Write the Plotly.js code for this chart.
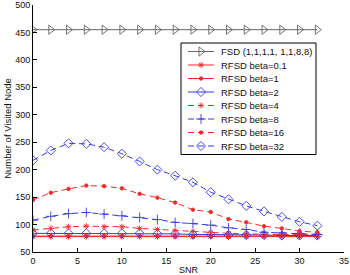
<!DOCTYPE html>
<html>
<head>
<meta charset="utf-8">
<script src="https://cdn.plot.ly/plotly-3.0.1.min.js"></script>
<style>
html,body{margin:0;padding:0;background:#fff;}
#chart{width:350px;height:275px;}
</style>
</head>
<body>
<div id="chart"></div>
<script>
// ---- data ----
var snr = [0,2,4,6,8,10,12,14,16,18,20,22,24,26,28,30,32];
var fsd   = [455,455,455,455,455,455,455,455,455,455,455,455,455,455,455,455,455];
var b0_1  = [78,78,78,78,78,78,78,78,78,78,78,78,78,78,78,78,78];
var b1    = [79,79,79,79,79,79,79,79,79,79,79,79,79,79,79,79,79];
var b2    = [84,84,84,84,84,84,84,83,83,82,82,81,81,81,80,80,80];
var b4    = [90,93,96,97,96,96,93,91,89,87,85,84,83,82,82,82,81];
var b8    = [108,115,120,122,119,116,113,109,104,102,99,94,91,86,85,84,82];
var b16   = [145,158,165,171,170,166,156,149,140,127,123,110,104,97,93,88,86];
var b32   = [217,235,248,247,241,229,215,200,189,177,159,146,134,124,114,105,98];
var seriesNames = ['FSD (1,1,1,1, 1,1,8,8)','RFSD beta=0.1','RFSD beta=1','RFSD beta=2',
                   'RFSD beta=4','RFSD beta=8','RFSD beta=16','RFSD beta=32'];
var seriesValues = [fsd,b0_1,b1,b2,b4,b8,b16,b32];
var xTicks = [0,5,10,15,20,25,30,35];
var yTicks = [50,100,150,200,250,300,350,400,450,500];

// ---- styles ----
var RED = '#f22a2a', BLUE = '#3a3ae0', GRAY = '#666666';
var DASH = '6px,4px';
var styles = [
  {color:GRAY, dash:'solid', symbol:'triangle-right-open', size:8},
  {color:RED,  dash:'solid', symbol:'asterisk-open', size:5},
  {color:RED,  dash:'solid', symbol:'circle', size:3.5},
  {color:BLUE, dash:'solid', symbol:'diamond-open', size:7},
  {color:RED,  dash:DASH,    symbol:'asterisk-open', size:5},
  {color:BLUE, dash:DASH,    symbol:'cross-thin-open', size:7},
  {color:RED,  dash:DASH,    symbol:'circle', size:3.5},
  {color:BLUE, dash:DASH,    symbol:'diamond-open', size:7}
];

var traces = [];
for (var i = 0; i < seriesValues.length; i++) {
  var s = styles[i];
  traces.push({
    type:'scatter', mode:'lines+markers', name:seriesNames[i],
    x:snr, y:seriesValues[i], showlegend:false,
    line:{color:s.color, width:1, dash:s.dash},
    marker:{symbol:s.symbol, size:s.size, color:s.color, line:{color:s.color, width:0.9}}
  });
}

// ---- custom compact legend on an overlay axis (units = pixels of the plot area) ----
var LX0 = 148, LX1 = 283, LY0 = 38, ROW = 13.5, LPAD = 8.5;
traces.push({
  type:'scatter', mode:'lines', xaxis:'x2', yaxis:'y2', showlegend:false, hoverinfo:'skip',
  x:[LX0,LX1,LX1,LX0,LX0], y:[LY0,LY0,LY0+LPAD*2+ROW*7,LY0+LPAD*2+ROW*7,LY0],
  fill:'toself', fillcolor:'#ffffff', line:{color:'#000000', width:1}
});
var annotations = [];
for (var j = 0; j < seriesNames.length; j++) {
  var st = styles[j];
  var yy = LY0 + LPAD + ROW*j;
  traces.push({
    type:'scatter', mode:'lines', xaxis:'x2', yaxis:'y2', showlegend:false, hoverinfo:'skip',
    x:[LX0+7, LX0+33], y:[yy,yy], line:{color:st.color, width:1, dash:st.dash}
  });
  traces.push({
    type:'scatter', mode:'markers', xaxis:'x2', yaxis:'y2', showlegend:false, hoverinfo:'skip',
    x:[LX0+20], y:[yy],
    marker:{symbol:st.symbol, size:st.size, color:st.color, line:{color:st.color, width:0.9}}
  });
  annotations.push({
    xref:'x2', yref:'y2', x:LX0+38, y:yy, xanchor:'left', yanchor:'middle',
    text:seriesNames[j], showarrow:false,
    font:{family:'Liberation Sans, Arial, sans-serif', size:9.5, color:'#111'}
  });
}

var layout = {
  width:350, height:275,
  margin:{l:33, r:6, t:5, b:23, pad:0},
  paper_bgcolor:'#fff', plot_bgcolor:'#fff',
  font:{family:'Liberation Sans, Arial, sans-serif', size:9, color:'#111'},
  showlegend:false,
  xaxis:{
    range:[0,35], tickvals:xTicks, ticktext:xTicks.map(String),
    ticks:'inside', ticklen:4, tickcolor:'#000', tickwidth:1,
    showline:true, linecolor:'#000', linewidth:1, mirror:false,
    showgrid:false, zeroline:false,
    tickfont:{size:9},
    title:{text:'SNR', font:{size:9}, standoff:5}
  },
  yaxis:{
    range:[50,500], tickvals:yTicks, ticktext:yTicks.map(String),
    ticks:'inside', ticklen:4, tickcolor:'#000', tickwidth:1,
    showline:true, linecolor:'#000', linewidth:1, mirror:false,
    showgrid:false, zeroline:false,
    tickfont:{size:9},
    title:{text:'Number of Visited Node', font:{size:9.5}, standoff:1}
  },
  xaxis2:{overlaying:'x', range:[0,311], visible:false, fixedrange:true},
  yaxis2:{overlaying:'y', range:[247,0], visible:false, fixedrange:true},
  annotations:annotations
};

Plotly.newPlot('chart', traces, layout, {displayModeBar:false, staticPlot:true});
</script>
</body>
</html>
